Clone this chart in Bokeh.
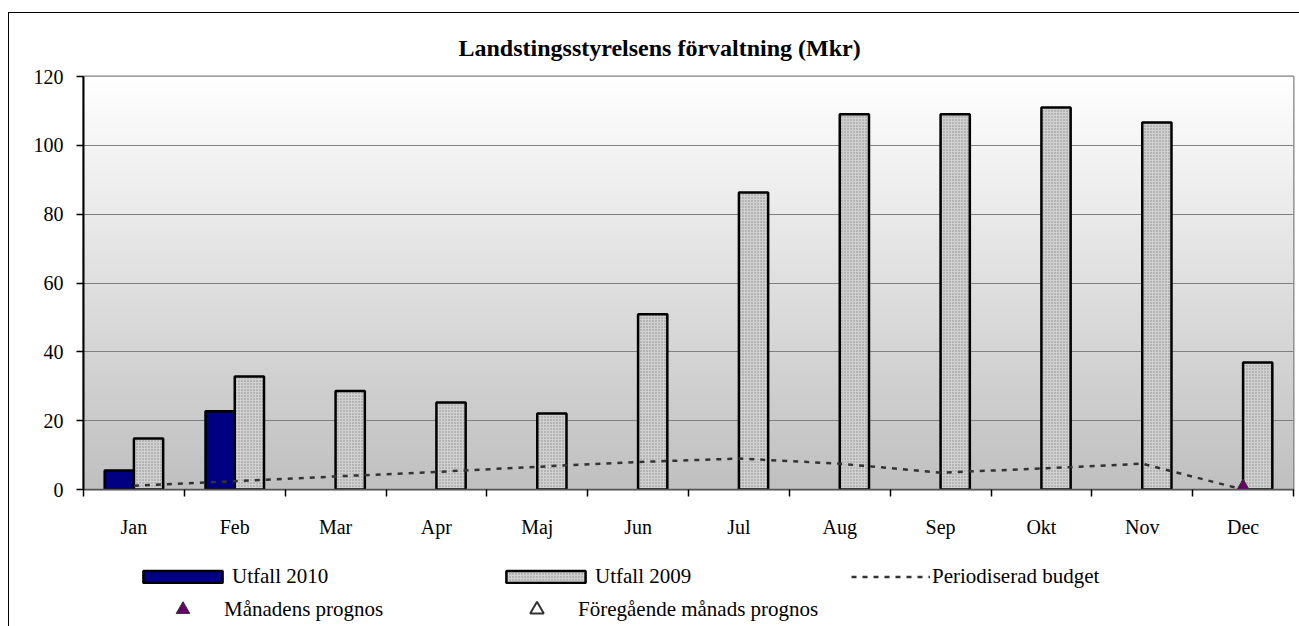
import numpy as np
from bokeh.plotting import figure
from bokeh.layouts import column
from bokeh.models import (ColumnDataSource, FixedTicker, Range1d, Legend, LegendItem, Title)
from bokeh.transform import dodge
from bokeh.embed import file_html
from bokeh.resources import INLINE

nan = float("nan")

months = ["Jan", "Feb", "Mar", "Apr", "Maj", "Jun", "Jul", "Aug", "Sep", "Okt", "Nov", "Dec"]
utfall_2010 = [5.5, 22.7, nan, nan, nan, nan, nan, nan, nan, nan, nan, nan]
utfall_2009 = [14.8, 32.8, 28.6, 25.3, 22.1, 50.9, 86.3, 109.0, 109.0, 111.0, 106.6, 36.9]
budget = [1.1, 2.4, 3.8, 5.1, 6.6, 8.0, 9.0, 7.5, 4.9, 6.1, 7.5, 0.0]
manadens_prognos = [nan, nan, nan, nan, nan, nan, nan, nan, nan, nan, nan, 0.0]
foregaende_prognos = [nan] * 12
y_ticks = [0, 20, 40, 60, 80, 100, 120]

title_text = "Landstingsstyrelsens förvaltning (Mkr)"
FONT = "Liberation Serif"

# styles
S10 = dict(fill_color="#000080", line_color="black", line_width=2.5)
S09 = dict(fill_color="#d0d0d0", line_color="black", line_width=2.5,
           hatch_pattern="dot", hatch_color="#8c8c8c", hatch_scale=3, hatch_weight=1.2)
SB = dict(line_color="#333333", line_width=2.5, line_dash="5 6")
SP = dict(marker="triangle", fill_color="#660066", line_color="#333333", line_width=1)
SF = dict(marker="triangle", fill_color="white", line_color="#333333", line_width=2)

xs = list(range(len(months)))
src = ColumnDataSource(dict(x=xs, u10=utfall_2010, u09=utfall_2009, budget=budget,
                            prog=manadens_prognos, fprog=foregaende_prognos))

p = figure(width=1290, height=527, output_backend="svg", toolbar_location=None,
           x_range=Range1d(-0.5, len(months) - 0.5), y_range=Range1d(0, 120),
           min_border_left=74, min_border_right=6, min_border_top=63, min_border_bottom=51)

p.title = Title(text=title_text, align="left", text_font=FONT, text_font_size="24px",
                text_font_style="bold", text_color="black", standoff=31, offset=375)

# gradient background
n = 200
g = np.linspace(192, 255, n).astype(np.uint32)
img = np.empty((n, 1), dtype=np.uint32)
view = img.view(dtype=np.uint8).reshape((n, 1, 4))
view[:, 0, 0] = g
view[:, 0, 1] = g
view[:, 0, 2] = g
view[:, 0, 3] = 255
p.image_rgba(image=[img], x=-0.5, y=0, dw=len(months), dh=120, level="image")

p.background_fill_color = "#ffffff"
p.border_fill_color = "#ffffff"
p.outline_line_color = "#808080"
p.outline_line_width = 2

p.xgrid.visible = False
p.ygrid.grid_line_color = "#808080"
p.ygrid.grid_line_width = 1
p.ygrid.level = "underlay"

bw = 0.29
p.vbar(x=dodge("x", -bw / 2, range=p.x_range), top="u10", width=bw, source=src, **S10)
p.vbar(x=dodge("x", bw / 2, range=p.x_range), top="u09", width=bw, source=src, **S09)
p.line(x="x", y="budget", source=src, **SB)
p.scatter(x="x", y="prog", source=src, size=18, **SP)
p.scatter(x="x", y="fprog", source=src, size=18, **SF)

# axes
xa = p.xaxis[0]
xa.ticker = FixedTicker(ticks=xs, minor_ticks=[i - 0.5 for i in range(len(months) + 1)])
xa.major_label_overrides = {i: m for i, m in enumerate(months)}
xa.major_tick_out = 0
xa.major_tick_in = 0
xa.minor_tick_out = 7
xa.minor_tick_in = 0
xa.minor_tick_line_color = "black"
xa.minor_tick_line_width = 1.5
xa.axis_line_color = "#555555"
xa.axis_line_width = 1.5
xa.major_label_standoff = 19
xa.major_label_text_font = FONT
xa.major_label_text_font_size = "20px"
xa.major_label_text_color = "black"

ya = p.yaxis[0]
ya.ticker = FixedTicker(ticks=y_ticks)
ya.major_tick_out = 7
ya.major_tick_in = 0
ya.minor_tick_out = 0
ya.minor_tick_in = 0
ya.major_tick_line_color = "black"
ya.major_tick_line_width = 1.5
ya.axis_line_color = "black"
ya.axis_line_width = 2
ya.major_label_standoff = 13
ya.major_label_text_font = FONT
ya.major_label_text_font_size = "20px"
ya.major_label_text_color = "black"

# legend panel (legend-only renderers hold no visible data)
pl = figure(width=1290, height=86, output_backend="svg", toolbar_location=None,
            x_range=Range1d(0, 1), y_range=Range1d(0, 1),
            min_border=0, min_border_left=0, min_border_right=0, min_border_top=0, min_border_bottom=0)
pl.axis.visible = False
pl.grid.visible = False
pl.outline_line_color = None
pl.background_fill_color = "#ffffff"
pl.border_fill_color = "#ffffff"

empty = ColumnDataSource(dict(x=[nan], y=[nan]))
l10 = pl.vbar(x="x", top="y", width=0.1, source=empty, **S10)
l09 = pl.vbar(x="x", top="y", width=0.1, source=empty, **S09)
lb = pl.line(x="x", y="y", source=empty, **SB)
lp = pl.scatter(x="x", y="y", source=empty, size=18, **SP)
lf = pl.scatter(x="x", y="y", source=empty, size=18, **SF)

common = dict(border_line_color=None, background_fill_alpha=0, padding=0, margin=0,
              label_text_font=FONT, label_text_font_size="21px", label_text_color="black",
              spacing=10, orientation="horizontal")

leg1 = Legend(items=[LegendItem(label="Utfall 2010", renderers=[l10], index=0),
                     LegendItem(label="Utfall 2009", renderers=[l09], index=0)],
              location=(50, 37), glyph_width=99, glyph_height=15, label_height=15,
              label_standoff=-9, label_width=254, **common)
leg1b = Legend(items=[LegendItem(label="Periodiserad budget", renderers=[lb], index=0)],
               location=(768, 37), glyph_width=79, glyph_height=15, label_height=15,
               label_standoff=2, label_width=263, **common)
leg2 = Legend(items=[LegendItem(label="Månadens prognos", renderers=[lp], index=0),
                     LegendItem(label="Föregående månads prognos", renderers=[lf], index=0)],
              location=(60, 0), glyph_width=79, glyph_height=34, label_height=22,
              label_standoff=2, label_width=263, **common)
pl.add_layout(leg1)
pl.add_layout(leg1b)
pl.add_layout(leg2)

layout = column(p, pl, spacing=0)
layout.styles = {"margin-top": "12px", "margin-left": "8px",
                 "border-top": "1px solid black", "border-left": "1px solid black"}

open("out.html", "w").write(file_html(layout, INLINE))
